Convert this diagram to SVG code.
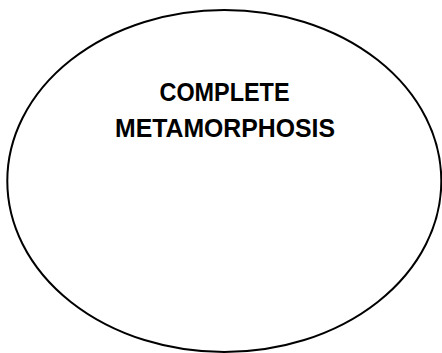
<svg xmlns="http://www.w3.org/2000/svg" width="442" height="353" viewBox="0 0 442 353">
<style>
.shape{fill:#fff;stroke:#000;stroke-width:2}
.label{font-family:"Liberation Sans",Arial,sans-serif;font-weight:bold;font-size:26px;fill:#000;text-anchor:middle}
</style>
<rect width="442" height="353" fill="#fff"/>
<g id="node-complete-metamorphosis">
<ellipse class="shape" cx="224.3" cy="181" rx="217" ry="171"/>
<text class="label" x="224.5" y="101" textLength="130" lengthAdjust="spacingAndGlyphs">COMPLETE</text>
<text class="label" x="225" y="136.5" textLength="220" lengthAdjust="spacingAndGlyphs">METAMORPHOSIS</text>
</g>
<g id="connectors"></g>
</svg>
